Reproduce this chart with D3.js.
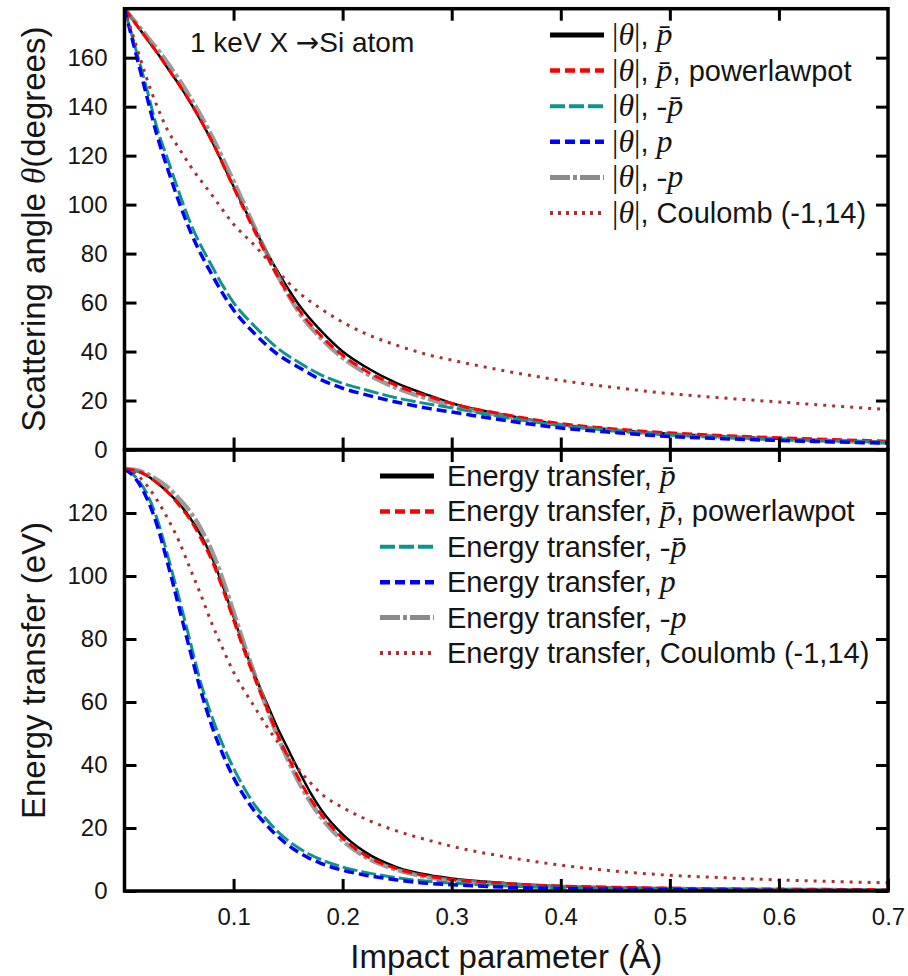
<!DOCTYPE html>
<html>
<head>
<meta charset="utf-8">
<script src="https://cdn.jsdelivr.net/npm/d3@7"></script>
<style>
  body { margin: 0; background: #fff; }
  text { font-family: "Liberation Sans", Arial, sans-serif; fill: #151515; white-space: pre; }
</style>
</head>
<body>
<svg id="chart"></svg>
<script>
//**** DATA ****//

// impact parameter grid (Angstrom) for the scattering angle panel
const impactTop = [0, 0.01, 0.02, 0.03, 0.04, 0.05, 0.06, 0.08, 0.1, 0.12, 0.14, 0.16, 0.18, 0.2, 0.22, 0.25, 0.28, 0.3, 0.35, 0.4, 0.45, 0.5, 0.55, 0.6, 0.65, 0.7];

// |theta| in degrees
const angleBar      = [180, 174, 168, 162, 155.5, 149, 142, 126, 107.5, 89.5, 73, 59, 48.5, 40, 34, 27, 22, 18.9, 14, 10.2, 8, 6.4, 5.3, 4.4, 3.7, 3];
const anglePowerlaw = [180, 174, 168, 162, 155.5, 149, 142, 126, 107, 88.5, 71, 57, 46.5, 38.5, 32.5, 26, 21.5, 18.8, 14.2, 10.6, 8.4, 6.8, 5.7, 4.8, 4.1, 3.4];
const angleMinusBar = [180, 164, 148, 131, 118, 105, 93, 75, 60, 50, 41.5, 35.5, 30.5, 27, 24.5, 21, 18.5, 17, 13, 9.8, 7.6, 5.9, 4.9, 4.1, 3.5, 3];
const angleP        = [180, 162.5, 145, 128, 114, 101, 89.5, 71.5, 57, 47, 39, 33.5, 28.5, 25, 22.5, 19.3, 16.7, 15.3, 11.8, 8.8, 6.9, 5.3, 4.4, 3.7, 3.1, 2.6];
const angleMinusP   = [180, 174.5, 169, 163.5, 157.5, 151, 144, 128, 109.5, 90, 71.5, 56, 45.5, 37.5, 31.5, 25, 20.5, 18, 13.5, 10, 7.8, 6.2, 5.1, 4.2, 3.5, 2.8];
const angleCoulomb  = [180, 166, 152, 140, 130, 123, 116, 104, 92, 83, 73, 64, 57.5, 52, 47.5, 42.5, 38.5, 36.5, 32, 28.2, 25.3, 22.8, 21, 19.4, 17.8, 16.3];

// impact parameter grid for the energy transfer panel
const impactBot = [0, 0.01, 0.02, 0.03, 0.04, 0.05, 0.06, 0.07, 0.08, 0.09, 0.1, 0.11, 0.12, 0.13, 0.14, 0.15, 0.16, 0.17, 0.18, 0.2, 0.22, 0.25, 0.28, 0.3, 0.35, 0.4, 0.45, 0.5, 0.55, 0.6, 0.65, 0.7];

// energy transfer in eV
const energyBar      = [134, 133.5, 132, 129.5, 126.5, 123, 118.5, 113, 106, 97, 87, 77, 68, 60, 52, 45, 38, 31.5, 26, 18, 12.5, 7.5, 5, 4, 2.5, 1.5, 1.1, 0.8, 0.6, 0.5, 0.4, 0.3];
const energyPowerlaw = [134, 133.5, 132, 129.5, 126.5, 122.5, 118, 112, 105, 96, 86, 76, 67, 58.5, 50, 42.5, 35.5, 29.5, 24.5, 16.8, 11.5, 7, 4.6, 3.6, 2.3, 1.6, 1.2, 0.9, 0.7, 0.6, 0.5, 0.4];
const energyMinusBar = [134, 131.5, 126.5, 118, 106, 93, 79.5, 66, 55.5, 46.5, 39, 32.5, 27, 22.8, 19, 16, 13.6, 11.6, 10, 7.6, 6, 4.2, 3, 2.5, 1.6, 1, 0.7, 0.5, 0.4, 0.3, 0.25, 0.2];
const energyP        = [134, 131, 125, 116, 103.5, 90, 76.5, 63.5, 52.5, 43.5, 36, 30, 25, 21, 17.5, 14.6, 12.2, 10.3, 8.8, 6.6, 5.1, 3.5, 2.4, 2, 1.2, 0.8, 0.6, 0.4, 0.3, 0.2, 0.15, 0.1];
const energyMinusP   = [134, 133.7, 132.5, 130.5, 128, 124.5, 120.5, 115, 108, 99, 88.5, 78, 68, 58.5, 49.5, 41.5, 34.5, 28.5, 23.5, 16, 11, 6.7, 4.3, 3.4, 2.1, 1.3, 0.9, 0.7, 0.5, 0.4, 0.3, 0.2];
const energyCoulomb  = [134, 132.5, 129, 124, 118, 111, 102.5, 94, 85, 77, 69.5, 63.5, 58, 52.5, 47.5, 43, 38.5, 34.5, 31, 26.5, 23, 19, 16, 14.2, 10.8, 8.2, 6.3, 5, 4.2, 3.5, 3, 2.6];

// ticks
const xTickValues = [0.1, 0.2, 0.3, 0.4, 0.5, 0.6, 0.7];
const yTopTicks = [0, 20, 40, 60, 80, 100, 120, 140, 160];
const yBotTicks = [0, 20, 40, 60, 80, 100, 120];

// legend labels: [text, kind] with kind s = sans, m = math roman, i = math italic
const topLabels = [
  [["|", "m"], ["θ", "i"], ["|", "m"], [", ", "s"], ["p\u0304", "i"]],
  [["|", "m"], ["θ", "i"], ["|", "m"], [", ", "s"], ["p\u0304", "i"], [", powerlawpot", "s"]],
  [["|", "m"], ["θ", "i"], ["|", "m"], [", ", "s"], ["-", "m"], ["p\u0304", "i"]],
  [["|", "m"], ["θ", "i"], ["|", "m"], [", ", "s"], ["p", "i"]],
  [["|", "m"], ["θ", "i"], ["|", "m"], [", ", "s"], ["-", "m"], ["p", "i"]],
  [["|", "m"], ["θ", "i"], ["|", "m"], [", Coulomb (-1,14)", "s"]]
];
const botLabels = [
  [["Energy transfer, ", "s"], ["p\u0304", "i"]],
  [["Energy transfer, ", "s"], ["p\u0304", "i"], [", powerlawpot", "s"]],
  [["Energy transfer, ", "s"], ["-", "m"], ["p\u0304", "i"]],
  [["Energy transfer, ", "s"], ["p", "i"]],
  [["Energy transfer, ", "s"], ["-", "m"], ["p", "i"]],
  [["Energy transfer, Coulomb (-1,14)", "s"]]
];

//**** STYLES ****//
const styles = [
  {color: "#000000", width: 2.5, dash: null,         legendWidth: 5,   legendDash: null},
  {color: "#ff0000", width: 3,   dash: "10,5",       legendWidth: 4.5, legendDash: "10,5"},
  {color: "#0f948c", width: 3,   dash: "15,4",       legendWidth: 4,   legendDash: "15,4"},
  {color: "#0000ff", width: 3.5, dash: "10,5",       legendWidth: 4.5, legendDash: "10,5"},
  {color: "#8a8a8a", width: 4.5, dash: "20,3,4,3",   legendWidth: 5,   legendDash: "20,3,4,3"},
  {color: "#a83232", width: 3,   dash: "3,6",        legendWidth: 4,   legendDash: "3,5"}
];
// drawing order (gray below the red)
const drawOrder = [0, 4, 1, 2, 3, 5];

const width = 908, height = 976;
const left = 124.5, right = 888;
const legendFont = 29;

const svg = d3.select("#chart").attr("width", width).attr("height", height);

const x = d3.scaleLinear().domain([0, 0.7]).range([left, right]);

const panels = [
  {
    y: d3.scaleLinear().domain([0, 180]).range([449.5, 8.7]),
    impact: impactTop,
    series: [angleBar, anglePowerlaw, angleMinusBar, angleP, angleMinusP, angleCoulomb],
    ticks: yTopTicks,
    labels: topLabels,
    legend: {x0: 550, x1: 604, tx: 612, y0: 35, dy: 35.6}
  },
  {
    y: d3.scaleLinear().domain([0, 140]).range([891, 450]),
    impact: impactBot,
    series: [energyBar, energyPowerlaw, energyMinusBar, energyP, energyMinusP, energyCoulomb],
    ticks: yBotTicks,
    labels: botLabels,
    legend: {x0: 380, x1: 434, tx: 447, y0: 476, dy: 35.4}
  }
];

function styleAxis(g) {
  g.select(".domain").remove();
  g.selectAll(".tick line").attr("stroke", "#000").attr("stroke-width", 3);
  g.selectAll(".tick text")
    .style("font-family", "'Liberation Sans', Arial, sans-serif")
    .style("font-size", "24px")
    .attr("fill", "#151515");
}

function addLabel(textSel, parts, size) {
  parts.forEach(([t, kind]) => {
    const ts = textSel.append("tspan").text(t);
    if (kind === "m") ts.style("font-family", "'Liberation Serif', 'DejaVu Serif', serif");
    if (kind === "i") ts.style("font-family", "'Liberation Serif', 'DejaVu Serif', serif").style("font-style", "italic");
    if (kind !== "s") ts.style("font-size", (size * 1.1) + "px");
  });
}

panels.forEach((p, pi) => {
  const y = p.y;
  const top = y.range()[1], bottom = y.range()[0];

  const clipId = "clip" + pi;
  svg.append("clipPath").attr("id", clipId)
    .append("rect").attr("x", left).attr("y", top).attr("width", right - left).attr("height", bottom - top);

  // curves
  const line = d3.line()
    .x((d, i) => x(p.impact[i]))
    .y(d => y(d))
    .curve(d3.curveMonotoneX);

  const curves = svg.append("g").attr("clip-path", `url(#${clipId})`);
  drawOrder.forEach(si => {
    const s = styles[si];
    curves.append("path")
      .attr("d", line(p.series[si]))
      .attr("fill", "none")
      .attr("stroke", s.color)
      .attr("stroke-width", s.width)
      .attr("stroke-dasharray", s.dash)
      .attr("opacity", si === 4 ? 0.85 : 1);
  });

  // axes with inward ticks
  svg.append("g").attr("transform", `translate(${left},0)`)
    .call(d3.axisLeft(y).tickValues(p.ticks).tickSize(-12).tickPadding(17))
    .call(styleAxis);
  svg.append("g").attr("transform", `translate(${right},0)`)
    .call(d3.axisRight(y).tickValues(p.ticks).tickSize(-12).tickFormat(""))
    .call(styleAxis);
  svg.append("g").attr("transform", `translate(0,${top})`)
    .call(d3.axisTop(x).tickValues(xTickValues.slice(0, 6)).tickSize(-12).tickFormat(""))
    .call(styleAxis);
  if (pi === 0) {
    svg.append("g").attr("transform", `translate(0,${bottom})`)
      .call(d3.axisBottom(x).tickValues(xTickValues.slice(0, 6)).tickSize(-12).tickFormat(""))
      .call(styleAxis);
  } else {
    svg.append("g").attr("transform", `translate(0,${bottom})`)
      .call(d3.axisBottom(x).tickValues(xTickValues).tickSize(-12).tickPadding(17).tickFormat(d3.format(".1f")))
      .call(styleAxis);
  }

  // frame
  svg.append("rect")
    .attr("x", left).attr("y", top)
    .attr("width", right - left).attr("height", bottom - top)
    .attr("fill", "none").attr("stroke", "#000").attr("stroke-width", 3.5);

  // legend
  const lg = p.legend;
  p.labels.forEach((lab, i) => {
    const s = styles[i];
    const yy = lg.y0 + i * lg.dy;
    svg.append("line")
      .attr("x1", lg.x0).attr("x2", lg.x1).attr("y1", yy).attr("y2", yy)
      .attr("stroke", s.color).attr("stroke-width", s.legendWidth)
      .attr("stroke-dasharray", s.legendDash);
    const t = svg.append("text").attr("x", lg.tx).attr("y", yy + 10).style("font-size", legendFont + "px");
    addLabel(t, lab, legendFont);
  });
});

// title inside top panel
const title = svg.append("text").attr("x", 190).attr("y", 52).style("font-size", "28px");
title.append("tspan").text("1 keV X ");
title.append("tspan").style("font-family", "'DejaVu Sans', sans-serif").text("\u2192");
title.append("tspan").text("Si atom");

// axis titles
const yt1 = svg.append("text")
  .attr("transform", `translate(45,${(449.5 + 8.7) / 2}) rotate(-90)`)
  .attr("text-anchor", "middle").style("font-size", "33px");
addLabel(yt1, [["Scattering angle ", "s"], ["θ", "i"], ["(degrees)", "s"]], 30);

svg.append("text")
  .attr("transform", `translate(45,${(891 + 450) / 2}) rotate(-90)`)
  .attr("text-anchor", "middle").style("font-size", "33px")
  .text("Energy transfer (eV)");

svg.append("text")
  .attr("x", (left + right) / 2).attr("y", 968)
  .attr("text-anchor", "middle").style("font-size", "33px")
  .text("Impact parameter (Å)");
</script>
</body>
</html>
